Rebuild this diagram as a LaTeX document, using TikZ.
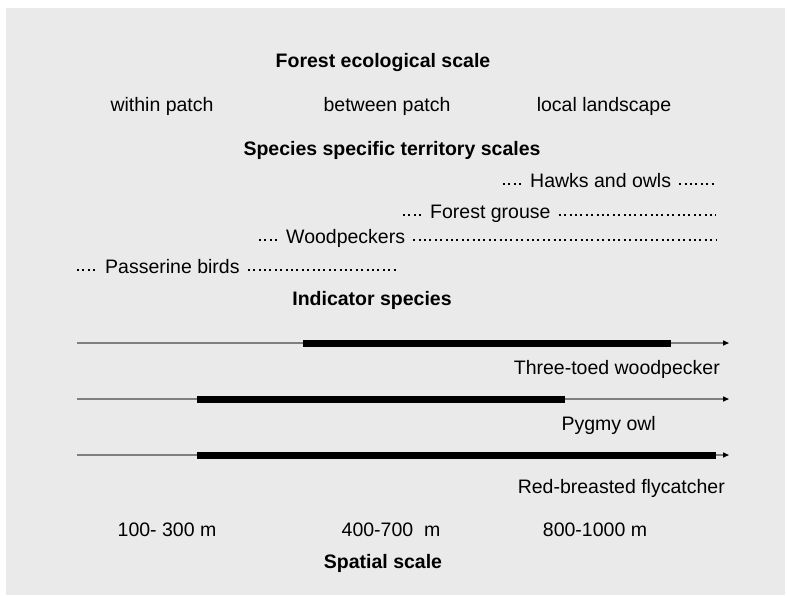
\documentclass[tikz,border=0pt]{standalone}
\usepackage{fontspec}
\setmainfont{Liberation Sans}
\usetikzlibrary{arrows.meta, positioning}
\definecolor{panelgray}{HTML}{EAEAEA}
\definecolor{axisgray}{HTML}{7F7F7F}

\begin{document}
\begin{tikzpicture}[
        x=1pt, y=-1pt,
        txt/.style={font=\fontsize{19.5}{23}\selectfont, inner sep=0pt, anchor=base},
        head/.style={txt, font=\fontsize{19.5}{23}\selectfont\bfseries},
        spp/.style={txt, anchor=base west, inner xsep=8pt},
        leader/.style={line width=2pt, dash pattern=on 2pt off 3.4pt},
        axis/.style={draw=axisgray, line width=1.4pt,
                     -{Triangle[length=6pt, width=5pt, color=black]}},
        spanbar/.style={line width=7pt},
    ]
    % background panel
    \useasboundingbox (0,0) rectangle (787,595);
    \fill[panelgray] (6,8) rectangle (785,595);

    % forest ecological scale
    \node[head] (ecoTitle) at (383,67) {Forest ecological scale};
    \node[txt] (within) at (162,111) {within patch};
    \node[txt] (between) at (387,111) {between patch};
    \node[txt] (landscape) at (604,111) {local landscape};

    % species specific territory scales
    \node[head] (terrTitle) at (392,155) {Species specific territory scales};
    \node[spp] (hawks) at (522,187) {Hawks and owls};
    \node[spp] (grouse) at (422,218) {Forest grouse};
    \node[spp] (woodp) at (278,243) {Woodpeckers};
    \node[spp] (passer) at (97,273) {Passerine birds};
    \coordinate (hawksL) at (503,183.5);
    \coordinate (hawksR) at (716,183.5);
    \coordinate (grouseL) at (403,214.5);
    \coordinate (grouseR) at (716,214.5);
    \coordinate (woodpL) at (259,239.5);
    \coordinate (woodpR) at (716,239.5);
    \coordinate (passerL) at (77,269.5);
    \coordinate (passerR) at (397,269.5);
    \foreach \sp in {hawks, grouse, woodp, passer} {
        \draw[leader] (\sp L) -- (\sp L -| \sp.west);
        \draw[leader] (\sp L -| \sp.east) -- (\sp R);
    }

    % indicator species
    \node[head] (indTitle) at (372,305) {Indicator species};
    \coordinate (threetoedS) at (77,343);
    \coordinate (threetoedE) at (729,343);
    \coordinate (pygmyS) at (77,399);
    \coordinate (pygmyE) at (729,399);
    \coordinate (flycS) at (77,455);
    \coordinate (flycE) at (729,455);
    \draw[axis] (threetoedS) -- (threetoedE);
    \draw[axis] (pygmyS) -- (pygmyE);
    \draw[axis] (flycS) -- (flycE);
    \draw[spanbar] (303,343) coordinate (tA) -- (671,343) coordinate (tB);
    \draw[spanbar] (197,399) coordinate (pA) -- (565,399) coordinate (pB);
    \draw[spanbar] (197,455) coordinate (fA) -- (716,455) coordinate (fB);
    \node[txt, anchor=base east] (threetoed) at (720,374) {Three-toed woodpecker};
    \node[txt, anchor=base east] (pygmy) at (656,430) {Pygmy owl};
    \node[txt, anchor=base east] (flyc) at (725,493) {Red-breasted flycatcher};

    % spatial scale
    \node[txt] (near) at (167,536) {100- 300 m};
    \node[txt] (mid) at (391,536) {400-700\ \ m};
    \node[txt] (far) at (595,536) {800-1000 m};
    \node[head] (spatTitle) at (383,568) {Spatial scale};
\end{tikzpicture}
\end{document}
